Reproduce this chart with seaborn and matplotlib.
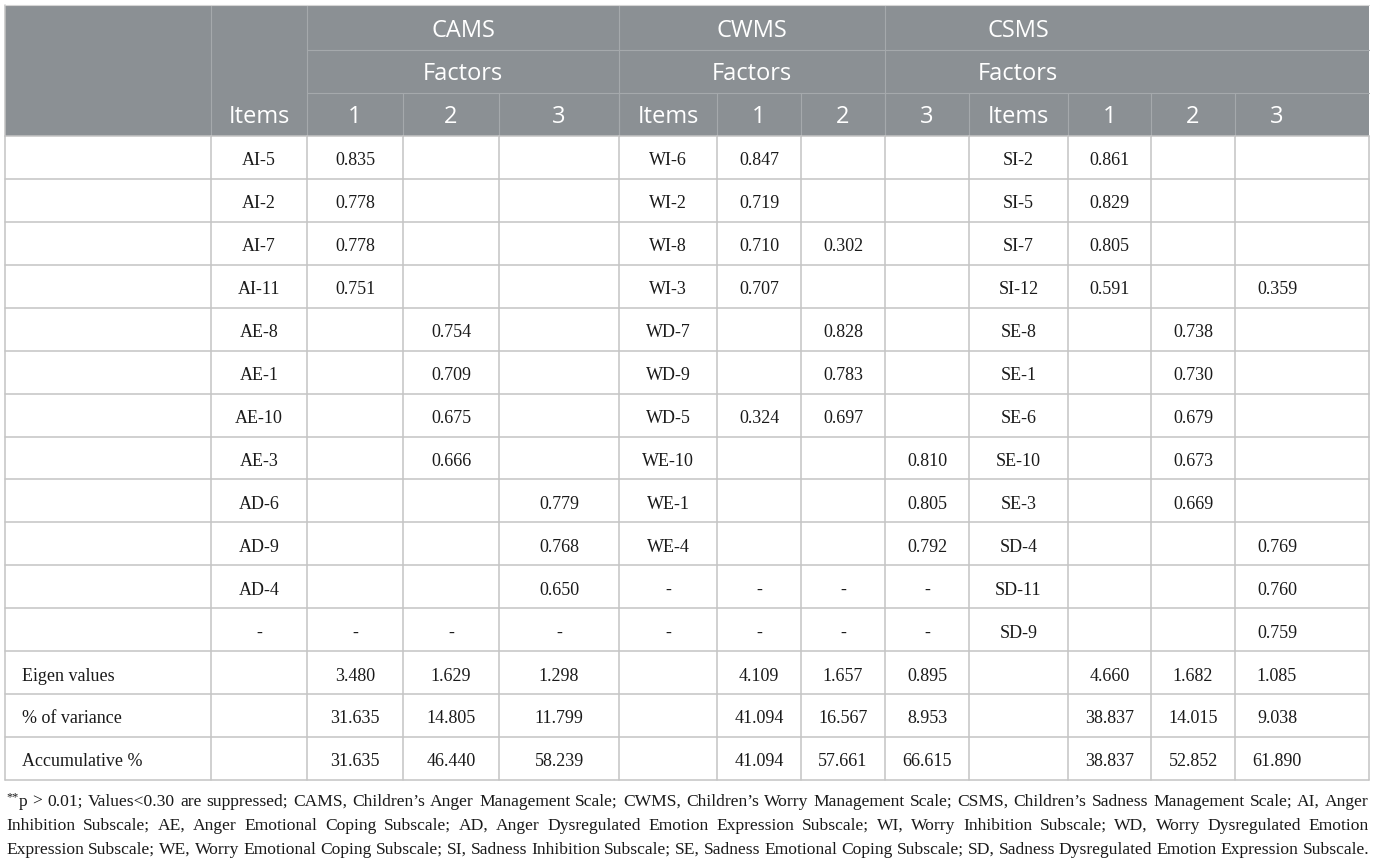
import numpy as np
import pandas as pd
import matplotlib
matplotlib.use("Agg")
import matplotlib.pyplot as plt
from matplotlib.patches import Rectangle
import seaborn as sns

sns.set_theme(style="white")
plt.rcParams['font.family'] = ['Liberation Serif', 'DejaVu Serif']

# ---- table content ----
row_labels = [""] * 12 + ["Eigen values", "% of variance", "Accumulative %"]

cams_items = ["AI-5", "AI-2", "AI-7", "AI-11", "AE-8", "AE-1", "AE-10", "AE-3", "AD-6", "AD-9", "AD-4", "-", "", "", ""]
cams_f1 = ["0.835", "0.778", "0.778", "0.751", "", "", "", "", "", "", "", "-", "3.480", "31.635", "31.635"]
cams_f2 = ["", "", "", "", "0.754", "0.709", "0.675", "0.666", "", "", "", "-", "1.629", "14.805", "46.440"]
cams_f3 = ["", "", "", "", "", "", "", "", "0.779", "0.768", "0.650", "-", "1.298", "11.799", "58.239"]

cwms_items = ["WI-6", "WI-2", "WI-8", "WI-3", "WD-7", "WD-9", "WD-5", "WE-10", "WE-1", "WE-4", "-", "-", "", "", ""]
cwms_f1 = ["0.847", "0.719", "0.710", "0.707", "", "", "0.324", "", "", "", "-", "-", "4.109", "41.094", "41.094"]
cwms_f2 = ["", "", "0.302", "", "0.828", "0.783", "0.697", "", "", "", "-", "-", "1.657", "16.567", "57.661"]
cwms_f3 = ["", "", "", "", "", "", "", "0.810", "0.805", "0.792", "-", "-", "0.895", "8.953", "66.615"]

csms_items = ["SI-2", "SI-5", "SI-7", "SI-12", "SE-8", "SE-1", "SE-6", "SE-10", "SE-3", "SD-4", "SD-11", "SD-9", "", "", ""]
csms_f1 = ["0.861", "0.829", "0.805", "0.591", "", "", "", "", "", "", "", "", "4.660", "38.837", "38.837"]
csms_f2 = ["", "", "", "", "0.738", "0.730", "0.679", "0.673", "0.669", "", "", "", "1.682", "14.015", "52.852"]
csms_f3 = ["", "", "", "0.359", "", "", "", "", "", "0.769", "0.760", "0.759", "1.085", "9.038", "61.890"]

scales = ["CAMS", "CWMS", "CSMS"]
sub_header = "Factors"
col_heads = ["Items", "1", "2", "3", "Items", "1", "2", "3", "Items", "1", "2", "3"]

footnote = [
    "**p > 0.01; Values<0.30 are suppressed; CAMS, Children\u2019s Anger Management Scale; CWMS, Children\u2019s Worry Management Scale; CSMS, Children\u2019s Sadness Management Scale; AI, Anger",
    "Inhibition Subscale; AE, Anger Emotional Coping Subscale; AD, Anger Dysregulated Emotion Expression Subscale; WI, Worry Inhibition Subscale; WD, Worry Dysregulated Emotion",
    "Expression Subscale; WE, Worry Emotional Coping Subscale; SI, Sadness Inhibition Subscale; SE, Sadness Emotional Coping Subscale; SD, Sadness Dysregulated Emotion Expression Subscale.",
]

df = pd.DataFrame({
    "label": row_labels,
    "cams_items": cams_items, "cams_1": cams_f1, "cams_2": cams_f2, "cams_3": cams_f3,
    "cwms_items": cwms_items, "cwms_1": cwms_f1, "cwms_2": cwms_f2, "cwms_3": cwms_f3,
    "csms_items": csms_items, "csms_1": csms_f1, "csms_2": csms_f2, "csms_3": csms_f3,
})

# ---- layout (pixels) ----
W, H = 1377, 863
edges = [4.5, 211, 307, 403, 499, 619, 717, 801, 885, 969, 1068, 1151, 1235, 1369]
centers = [(a + b) / 2 for a, b in zip(edges[:-1], edges[1:])]
centers[-1] = edges[-2] + 42
head_rows = [5, 50, 92.7, 136]
row_h = 42.93
body_rows = head_rows[-1] + row_h * np.arange(len(df) + 1)

head_bg = "#8b9094"
head_line = "#a5a9ac"
grid_col = "#c4c4c4"
txt_col = "#1a1a1a"
sans = ["Open Sans", "DejaVu Sans"]
fs_head = 17
fs_body = 13

fig = plt.figure(figsize=(W / 100, H / 100), dpi=100)
ax = fig.add_axes([0, 0, 1, 1])
ax.set_xlim(0, W)
ax.set_ylim(H, 0)
ax.axis("off")

# header block
ax.add_patch(Rectangle((edges[0], head_rows[0]), edges[-1] - edges[0], head_rows[-1] - head_rows[0],
                       facecolor=head_bg, edgecolor="none", zorder=1))
for y in head_rows[1:3]:
    ax.plot([edges[2], edges[-1]], [y, y], color=head_line, lw=0.8, zorder=2)
for x in [edges[1], edges[2], edges[5], edges[8]]:
    ax.plot([x, x], [head_rows[0], head_rows[-1]], color=head_line, lw=0.8, zorder=2)
for x in edges[3:-1]:
    ax.plot([x, x], [head_rows[2], head_rows[-1]], color=head_line, lw=0.8, zorder=2)

# header texts (baseline placed so the capitals sit centred in each row)
cap_half = fs_head * 100 / 72 * 0.714 / 2
span_centers = [(edges[2] + edges[5]) / 2, (edges[5] + edges[8]) / 2, (edges[8] + edges[11]) / 2]
for s, cx in zip(scales, span_centers):
    ax.text(cx, (head_rows[0] + head_rows[1]) / 2 + 1.5 + cap_half, s, ha="center", va="baseline",
            color="white", fontsize=fs_head, family=sans, zorder=3)
    ax.text(cx, (head_rows[1] + head_rows[2]) / 2 + cap_half, sub_header, ha="center", va="baseline",
            color="white", fontsize=fs_head, family=sans, zorder=3)
for h, cx in zip(col_heads, centers[1:]):
    ax.text(cx, (head_rows[2] + head_rows[3]) / 2 + 0.5 + cap_half, h, ha="center", va="baseline",
            color="white", fontsize=fs_head, family=sans, zorder=3)

# body grid
for y in body_rows:
    ax.plot([edges[0], edges[-1]], [y, y], color=grid_col, lw=1.1, zorder=2)
for x in edges:
    ax.plot([x, x], [head_rows[-1], body_rows[-1]], color=grid_col, lw=1.1, zorder=2)
ax.plot([edges[0], edges[0]], [head_rows[0], head_rows[-1]], color=grid_col, lw=1.1, zorder=2)
ax.plot([edges[0], edges[-1]], [head_rows[0], head_rows[0]], color="#d5d5d5", lw=0.8, zorder=2)

# body texts
digit_half = fs_body * 100 / 72 * 0.68 / 2
cols = list(df.columns)
for i, row in df.iterrows():
    yb = (body_rows[i] + body_rows[i + 1]) / 2 + 1.8 + digit_half
    if row["label"]:
        ax.text(22.5, yb, row["label"], ha="left", va="baseline", fontsize=fs_body, color=txt_col, zorder=3)
    for j, c in enumerate(cols[1:], start=1):
        if row[c]:
            ax.text(centers[j], yb, row[c], ha="center", va="baseline", fontsize=fs_body,
                    color=txt_col, zorder=3)

# footnote, justified across the table width
fig.canvas.draw()
renderer = fig.canvas.get_renderer()


def text_width(s, fs):
    t = ax.text(0, 0, s, fontsize=fs)
    wd = t.get_window_extent(renderer).width
    t.remove()
    return wd


def word_width(w, fs):
    if w.startswith("**"):
        return text_width("**", fs * 0.7) + text_width(w[2:], fs)
    return text_width(w, fs)


left, right = edges[0] + 2, edges[-1]
fs_note = 13
space = fs_note * 100 / 72 * 0.25
natural = []
for line in footnote:
    ws = line.split(" ")
    natural.append(sum(word_width(w, fs_note) for w in ws) + space * (len(ws) - 1))
fs_note = fs_note * min(1.0, (right - left) / max(natural))

note_y = [802, 826, 850]
for line, y in zip(footnote, note_y):
    ws = line.split(" ")
    wids = [word_width(w, fs_note) for w in ws]
    gap = (right - left - sum(wids)) / (len(ws) - 1)
    x = left
    for w, wd in zip(ws, wids):
        if w.startswith("**"):
            ax.text(x, y - 5, "**", ha="left", va="center", fontsize=fs_note * 0.7, color=txt_col)
            sw = text_width("**", fs_note * 0.7)
            ax.text(x + sw, y, w[2:], ha="left", va="center", fontsize=fs_note, color=txt_col)
        else:
            ax.text(x, y, w, ha="left", va="center", fontsize=fs_note, color=txt_col)
        x += wd + gap

fig.savefig("out.png", dpi=100, facecolor="white")
